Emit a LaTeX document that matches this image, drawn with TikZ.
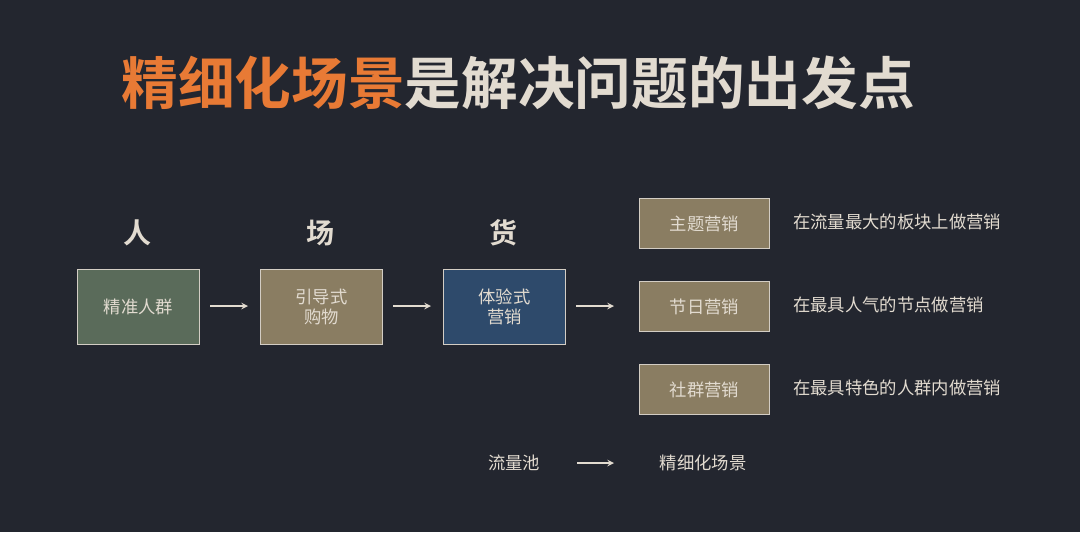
\documentclass[tikz,border=0pt]{standalone}
\usepackage{fontspec}
\newfontfamily\cjk{Noto Sans CJK SC}
\newfontfamily\cjkb{Noto Sans CJK SC Bold}
\definecolor{bg}{HTML}{23262F}
\definecolor{org}{HTML}{E87A35}
\definecolor{cream}{HTML}{E2DBD0}
\definecolor{gbox}{HTML}{5A6B5A}
\definecolor{tbox}{HTML}{8A7D62}
\definecolor{bbox}{HTML}{2E4A6B}
\begin{document}
\begin{tikzpicture}[x=0.75pt,y=-0.75pt,
  box/.style={draw=cream!85!gray, line width=0.8pt, minimum width=91pt, minimum height=56pt, inner sep=0pt, align=center, font=\cjk\fontsize{13}{15}\selectfont, text=cream},
  rbox/.style={box, minimum width=98pt, minimum height=37pt},
  lbl/.style={text=cream, font=\cjk\fontsize{13}{15}\selectfont, anchor=west, inner sep=0pt},
  hd/.style={text=cream, font=\cjkb\fontsize{21}{24}\selectfont},
  arr/.style={-stealth, cream, line width=1.2pt}]
\fill[bg] (0,0) rectangle (1080,532);
\node[font=\cjkb\fontsize{42.5}{48}\selectfont, inner sep=0pt] (title) at (518,83) {\textcolor{org}{精细化场景}\textcolor{cream}{是解决问题的出发点}};
\node[hd] (h1) at (137,233) {人};
\node[hd] (h2) at (320,233) {场};
\node[hd] (h3) at (503,233) {货};
\node[box, fill=gbox] (a) at (138.5,307) {精准人群};
\node[box, fill=tbox] (b) at (321.5,307) {引导式\\购物};
\node[box, fill=bbox] (c) at (504.5,307) {体验式\\营销};
\node[rbox, fill=tbox] (r1) at (704.5,223.5) {主题营销};
\node[rbox, fill=tbox] (r2) at (704.5,306.5) {节日营销};
\node[rbox, fill=tbox] (r3) at (704.5,389.5) {社群营销};
\node[lbl] (t1) at (793,222) {在流量最大的板块上做营销};
\node[lbl] (t2) at (793,305) {在最具人气的节点做营销};
\node[lbl] (t3) at (793,388) {在最具特色的人群内做营销};
\coordinate (p1) at (210,306); \coordinate (p2) at (248,306);
\coordinate (p3) at (393,306); \coordinate (p4) at (431,306);
\coordinate (p5) at (576,306); \coordinate (p6) at (614,306);
\draw[arr] (p1) -- (p2);
\draw[arr] (p3) -- (p4);
\draw[arr] (p5) -- (p6);
\node[text=cream, font=\cjk\fontsize{13}{15}\selectfont] (f1) at (514,463) {流量池};
\node[text=cream, font=\cjk\fontsize{13}{15}\selectfont] (f2) at (703,463) {精细化场景};
\coordinate (q1) at (577,463); \coordinate (q2) at (614,463);
\draw[arr] (q1) -- (q2);
\end{tikzpicture}
\end{document}
